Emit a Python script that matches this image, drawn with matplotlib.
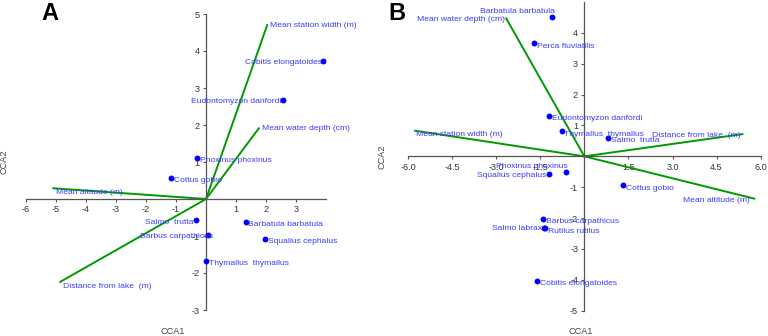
import matplotlib
matplotlib.use("Agg")
import matplotlib.pyplot as plt

plt.rcParams["font.family"] = ["Liberation Sans Narrow", "Liberation Sans", "DejaVu Sans"]
plt.rcParams["axes.unicode_minus"] = False

# ---- panel A data ----
a_species = ["Cobitis elongatoides", "Eudontomyzon danfordi", "Phoxinus phoxinus",
             "Cottus gobio", "Salmo  trutta", "Barbus carpathicus",
             "Barbatula barbatula", "Squalius cephalus", "Thymallus  thymallus"]
a_sx = [3.90, 2.57, -0.29, -1.17, -0.33, 0.08, 1.32, 1.97, 0.01]
a_sy = [3.73, 2.68, 1.12, 0.58, -0.56, -0.98, -0.62, -1.07, -1.68]

a_env = ["Mean station width (m)", "Mean water depth (cm)",
         "Mean altitude (m)", "Distance from lake  (m)"]
a_ex = [2.04, 1.76, -5.09, -4.86]
a_ey = [4.70, 1.91, 0.29, -2.24]

# ---- panel B data ----
b_species = ["Barbatula barbatula", "Perca fluviatilis", "Eudontomyzon danfordi",
             "Thymallus  thymallus", "Salmo  trutta", "Phoxinus phoxinus",
             "Squalius cephalus", "Cottus gobio", "Barbus carpathicus",
             "Rutilus rutilus", "Salmo labrax", "Cobitis elongatoides"]
b_sx = [-1.10, -1.71, -1.19, -0.77, 0.81, -0.62, -1.20, 1.31, -1.39, -1.33, -1.36, -1.60]
b_sy = [4.50, 3.66, 1.31, 0.81, 0.61, -0.51, -0.56, -0.94, -2.02, -2.33, -2.33, -4.04]

b_env = ["Mean water depth (cm)", "Mean station width (m)",
         "Distance from lake  (m)", "Mean altitude (m)"]
b_ex = [-2.66, -5.76, 5.38, 5.78]
b_ey = [4.47, 0.83, 0.72, -1.37]

# label placement: (offset x, offset y, ha) in points
a_sp_pos = {"Cobitis elongatoides": (-1, -1, "right"), "Eudontomyzon danfordi": (-1, -1, "right"),
            "Salmo  trutta": (-2, -2, "right"), "Barbus carpathicus": (3, -1, "right")}
a_env_pos = {"Mean altitude (m)": (2, -3, "left"), "Distance from lake  (m)": (2, -3, "left")}
b_sp_pos = {"Barbatula barbatula": (2, 4, "right"), "Phoxinus phoxinus": (1, 4, "right"),
            "Squalius cephalus": (-2, -1, "right"), "Salmo labrax": (-2, 0, "right")}
b_env_pos = {"Mean water depth (cm)": (-1, -1, "right"), "Mean station width (m)": (1, -3, "left"),
             "Distance from lake  (m)": (-1, -1, "right"), "Mean altitude (m)": (-3, -1, "right")}

LINE = "#009a00"
DOT = "#0000ff"
TXT = "#3a3aff"
FS = 6.1
TFS = 6.6


def panel(ax, sp, sx, sy, sp_pos, env, ex, ey, env_pos):
    for name, x, y in zip(env, ex, ey):
        ax.plot([0, x], [0, y], color=LINE, lw=1.4, zorder=2)
        dx, dy, ha = env_pos.get(name, (2, 0, "left"))
        ax.annotate(name, (x, y), xytext=(dx, dy), textcoords="offset points",
                    ha=ha, va="center", color=TXT, fontsize=FS, zorder=4)
    ax.scatter(sx, sy, s=18, color=DOT, zorder=3, linewidths=0)
    for name, x, y in zip(sp, sx, sy):
        dx, dy, ha = sp_pos.get(name, (2, -2, "left"))
        ax.annotate(name, (x, y), xytext=(dx, dy), textcoords="offset points",
                    ha=ha, va="center", color=TXT, fontsize=FS, zorder=4)
    for s in ["top", "right"]:
        ax.spines[s].set_visible(False)
    for s in ["left", "bottom"]:
        ax.spines[s].set_position(("data", 0))
        ax.spines[s].set_color("#555555")
        ax.spines[s].set_linewidth(0.9)
    ax.tick_params(length=2.5, width=0.8, color="#555555", labelsize=TFS,
                   labelcolor="#333333", pad=2)
    ax.patch.set_alpha(0)


fig = plt.figure(figsize=(7.68, 3.36), dpi=100)

axA = fig.add_axes([26 / 768, 1 - 310 / 336, 300 / 768, 296 / 336])
panel(axA, a_species, a_sx, a_sy, a_sp_pos, a_env, a_ex, a_ey, a_env_pos)
axA.set_xlim(-6, 4)
axA.set_ylim(-3, 5)
axA.set_xticks([-6, -5, -4, -3, -2, -1, 1, 2, 3])
axA.set_yticks([-3, -2, -1, 1, 2, 3, 4, 5])

axB = fig.add_axes([408 / 768, 1 - 310.7 / 336, 352.7 / 768, 308.7 / 336])
panel(axB, b_species, b_sx, b_sy, b_sp_pos, b_env, b_ex, b_ey, b_env_pos)
axB.set_xlim(-6, 6)
axB.set_ylim(-5, 5)
axB.set_xticks([-6, -4.5, -3, -1.5, 1.5, 3, 4.5, 6])
axB.set_xticklabels(["-6.0", "-4.5", "-3.0", "-1.5", "1.5", "3.0", "4.5", "6.0"])
axB.set_yticks([-5, -4, -3, -2, -1, 1, 2, 3, 4])

# axis titles and panel letters
fig.text(173 / 768, 1 - 331 / 336, "CCA1", ha="center", va="center", fontsize=TFS, color="#444444")
fig.text(4 / 768, 1 - 162 / 336, "CCA2", ha="center", va="center", rotation=90, fontsize=TFS, color="#444444")
fig.text(581 / 768, 1 - 331 / 336, "CCA1", ha="center", va="center", fontsize=TFS, color="#444444")
fig.text(382 / 768, 1 - 157 / 336, "CCA2", ha="center", va="center", rotation=90, fontsize=TFS, color="#444444")
fig.text(50 / 768, 1 - 13 / 336, "A", ha="center", va="center", fontsize=17, fontweight="bold",
         family=["Liberation Sans", "DejaVu Sans"])
fig.text(397 / 768, 1 - 13 / 336, "B", ha="center", va="center", fontsize=17, fontweight="bold",
         family=["Liberation Sans", "DejaVu Sans"])

fig.savefig("out.png", dpi=100)
